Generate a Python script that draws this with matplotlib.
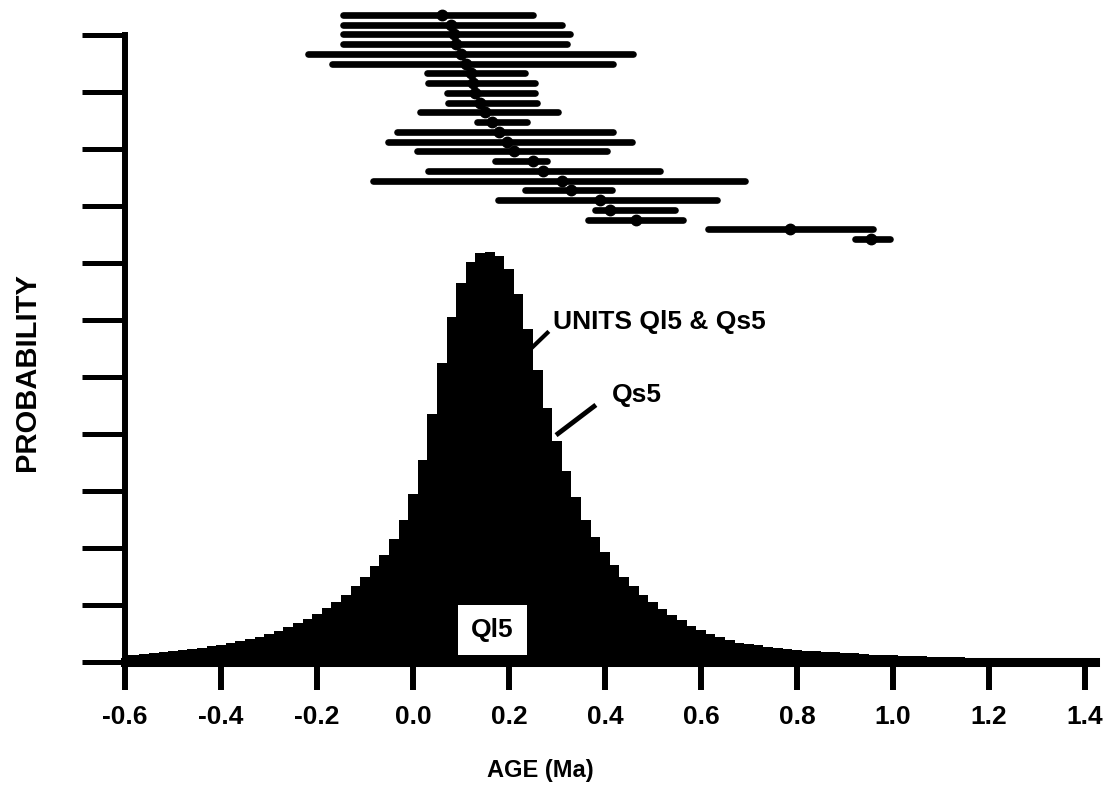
import numpy as np
import matplotlib
matplotlib.use("Agg")
import matplotlib.pyplot as plt

plt.rcParams['font.family'] = ['Liberation Sans', 'DejaVu Sans']
plt.rcParams['font.weight'] = 'bold'
plt.rcParams['axes.unicode_minus'] = False

# ---- data ----
x_ticks = [-0.6, -0.4, -0.2, 0.0, 0.2, 0.4, 0.6, 0.8, 1.0, 1.2, 1.4]
x_tick_labels = ["-0.6", "-0.4", "-0.2", "0.0", "0.2", "0.4", "0.6", "0.8", "1.0", "1.2", "1.4"]
y_ticks = list(range(0, 12))

# summed probability curve (0.02 Ma steps, -0.60 .. 1.40)
curve_prob = [
    0.12, 0.13, 0.14, 0.16, 0.17, 0.19, 0.21, 0.23, 0.25, 0.28,
    0.30, 0.33, 0.36, 0.40, 0.44, 0.49, 0.55, 0.61, 0.68, 0.76,
    0.84, 0.94, 1.05, 1.18, 1.33, 1.50, 1.68, 1.87, 2.15, 2.50,
    2.95, 3.55, 4.35, 5.25, 6.05, 6.65, 7.02, 7.17, 7.20, 7.12,
    6.90, 6.45, 5.85, 5.12, 4.45, 3.88, 3.35, 2.90, 2.50, 2.20,
    1.93, 1.70, 1.50, 1.33, 1.18, 1.05, 0.93, 0.83, 0.73, 0.64,
    0.56, 0.49, 0.43, 0.38, 0.34, 0.31, 0.29, 0.27, 0.25, 0.23,
    0.21, 0.20, 0.19, 0.18, 0.17, 0.16, 0.15, 0.14, 0.13, 0.12,
    0.115, 0.11, 0.105, 0.10, 0.095, 0.09, 0.085, 0.08, 0.075, 0.07,
    0.065, 0.06, 0.055, 0.05, 0.045, 0.04, 0.035, 0.03, 0.025, 0.02,
    0.01,
]
curve_age = np.linspace(-0.6, 1.4, len(curve_prob))

# individual sample ages (Ma) with their ranges
bar_age = [0.06, 0.08, 0.085, 0.09, 0.10, 0.11, 0.12, 0.125, 0.13, 0.14, 0.15, 0.165,
           0.18, 0.195, 0.21, 0.25, 0.27, 0.31, 0.33, 0.39, 0.41, 0.465, 0.785, 0.955]
bar_lo = [-0.146, -0.146, -0.146, -0.146, -0.219, -0.169, 0.029, 0.031, 0.071, 0.073, 0.015, 0.133,
          -0.033, -0.052, 0.008, 0.171, 0.031, -0.083, 0.233, 0.177, 0.379, 0.365, 0.615, 0.921]
bar_hi = [0.25, 0.31, 0.327, 0.32, 0.458, 0.417, 0.233, 0.254, 0.254, 0.258, 0.302, 0.238,
          0.417, 0.456, 0.404, 0.279, 0.515, 0.692, 0.415, 0.633, 0.546, 0.5625, 0.958, 0.994]

# ---- figure ----
W, H = 1104, 791
fig = plt.figure(figsize=(W / 100, H / 100), dpi=100)

ax_left, ax_right, ax_top, ax_bot = 125, 1095, 35, 662
ax = fig.add_axes([ax_left / W, 1 - ax_bot / H, (ax_right - ax_left) / W, (ax_bot - ax_top) / H])
ax.set_xlim(-0.6, -0.6 + (ax_right - ax_left) / 480.0)
ax.set_ylim(0, 11)

ax.fill_between(curve_age, curve_prob, 0, step='mid', color='black', lw=0)

for s in ['top', 'right']:
    ax.spines[s].set_visible(False)
ax.spines['left'].set_linewidth(4.3)
ax.spines['bottom'].set_linewidth(6.5)
ax.spines['left'].set_capstyle('projecting')

ax.set_xticks(x_ticks)
ax.set_xticklabels(x_tick_labels, fontsize=19, fontweight='bold')
ax.set_yticks(y_ticks)
ax.set_yticklabels([])
ax.tick_params(axis='x', direction='out', length=20, width=4.3, pad=11)
ax.tick_params(axis='y', direction='out', length=31, width=3.6)

# annotations
ax.text(0.292, 5.96, "UNITS Ql5 & Qs5", fontsize=19, fontweight='bold', va='center', ha='left')
ax.plot([0.283, 0.246], [5.80, 5.50], color='black', lw=3, solid_capstyle='butt')
ax.text(0.415, 4.68, "Qs5", fontsize=19, fontweight='bold', va='center', ha='left')
ax.plot([0.381, 0.298], [4.51, 3.98], color='black', lw=3.5, solid_capstyle='butt')
ax.text(0.165, 0.56, "Ql5", fontsize=19, fontweight='bold', va='center', ha='center',
        bbox=dict(boxstyle='square,pad=0.5', fc='white', ec='none'))

# error-bar panel overlay
b_top, b_bot = 5, 249
ax2 = fig.add_axes([ax_left / W, 1 - b_bot / H, (ax_right - ax_left) / W, (b_bot - b_top) / H])
ax2.set_xlim(ax.get_xlim())
spacing = 9.74
y_first = 15
top_val = (b_top - y_first) / spacing
ax2.set_ylim(top_val + (b_bot - b_top) / spacing, top_val)
ax2.axis('off')
idx = np.arange(len(bar_age))
lc = ax2.hlines(idx, bar_lo, bar_hi, color='black', lw=4.8)
lc.set_capstyle('round')
ax2.plot(bar_age, idx, 'o', color='black', ms=7.5, mec='black')

fig.text(540 / W, 1 - 771 / H, "AGE (Ma)", fontsize=17, fontweight='bold', ha='center', va='center')
fig.text(27 / W, 1 - 372 / H, "PROBABILITY", fontsize=21, fontweight='bold', ha='center', va='center',
         rotation=90)

fig.savefig("out.png", dpi=100)
